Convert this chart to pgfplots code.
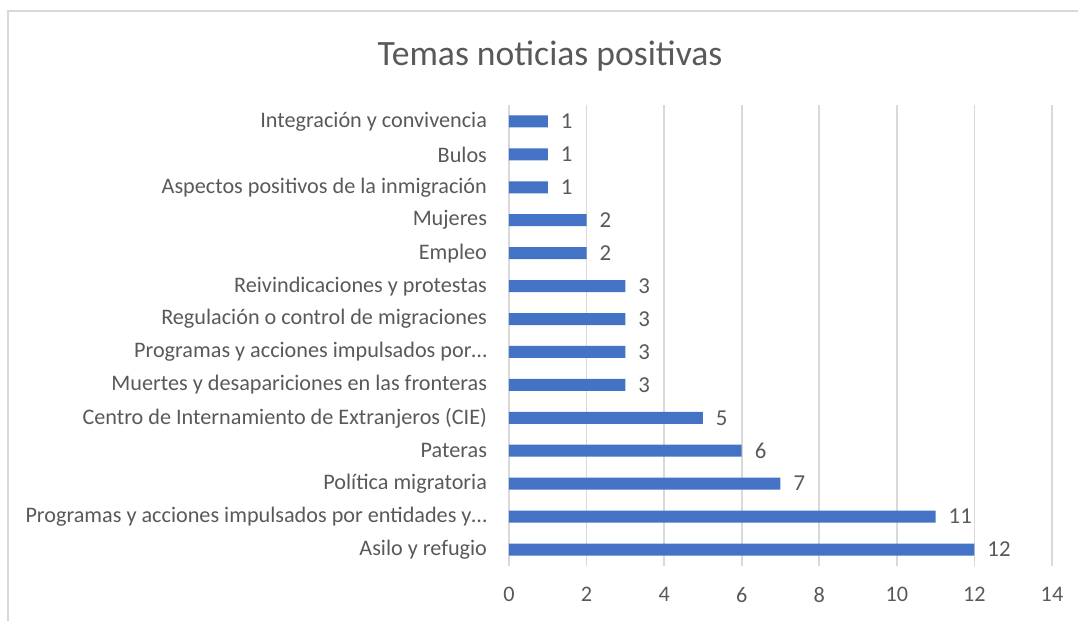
\documentclass[border=0pt]{standalone}
\usepackage{pgfplots}
\pgfplotsset{compat=1.18}
\usepackage{fontspec}
\setmainfont{Carlito}
\definecolor{bartxt}{HTML}{595959}
\definecolor{barblue}{HTML}{4472C4}
\definecolor{gridc}{HTML}{D9D9D9}
\begin{document}
\begin{tikzpicture}
\path[use as bounding box] (0pt,0pt) rectangle (539pt,310.5pt);
\draw[gridc, line width=0.8pt] (4pt,0pt) -- (4pt,305pt) -- (539pt,305pt);
\node[text=bartxt, font=\fontsize{17.8}{20}\selectfont] at (275pt,282.5pt) {Temas noticias positivas};
\begin{axis}[
  at={(254.5pt,27.5pt)}, anchor=south west,
  scale only axis, width=271.5pt, height=230.5pt,
  xbar, bar width=6pt,
  xmin=0, xmax=14, ymin=-0.5, ymax=13.5,
  xtick={0,2,...,14},
  ytick={0,...,13},
  yticklabels={Asilo y refugio,
    Programas y acciones impulsados por entidades y…,
    Política migratoria,
    Pateras,
    Centro de Internamiento de Extranjeros (CIE),
    Muertes y desapariciones en las fronteras,
    Programas y acciones impulsados por…,
    Regulación o control de migraciones,
    Reivindicaciones y protestas,
    Empleo,
    Mujeres,
    Aspectos positivos de la inmigración,
    Bulos,
    Integración y convivencia},
  axis line style={draw=none},
  major tick length=0pt,
  xmajorgrids, grid style={gridc, line width=0.8pt},
  tick label style={text=bartxt, font=\fontsize{11.1}{13}\selectfont},
  /pgf/number format/assume math mode=true,
  xticklabel style={yshift=-7pt},
  yticklabel style={xshift=-7.5pt},
  nodes near coords,
  every node near coord/.append style={text=bartxt, font=\fontsize{11.4}{13}\selectfont, xshift=3pt},
]
\addplot[fill=barblue, draw=none] coordinates {
  (12,0) (11,1) (7,2) (6,3) (5,4) (3,5) (3,6) (3,7) (3,8) (2,9) (2,10) (1,11) (1,12) (1,13)
};
\end{axis}
\end{tikzpicture}
\end{document}
